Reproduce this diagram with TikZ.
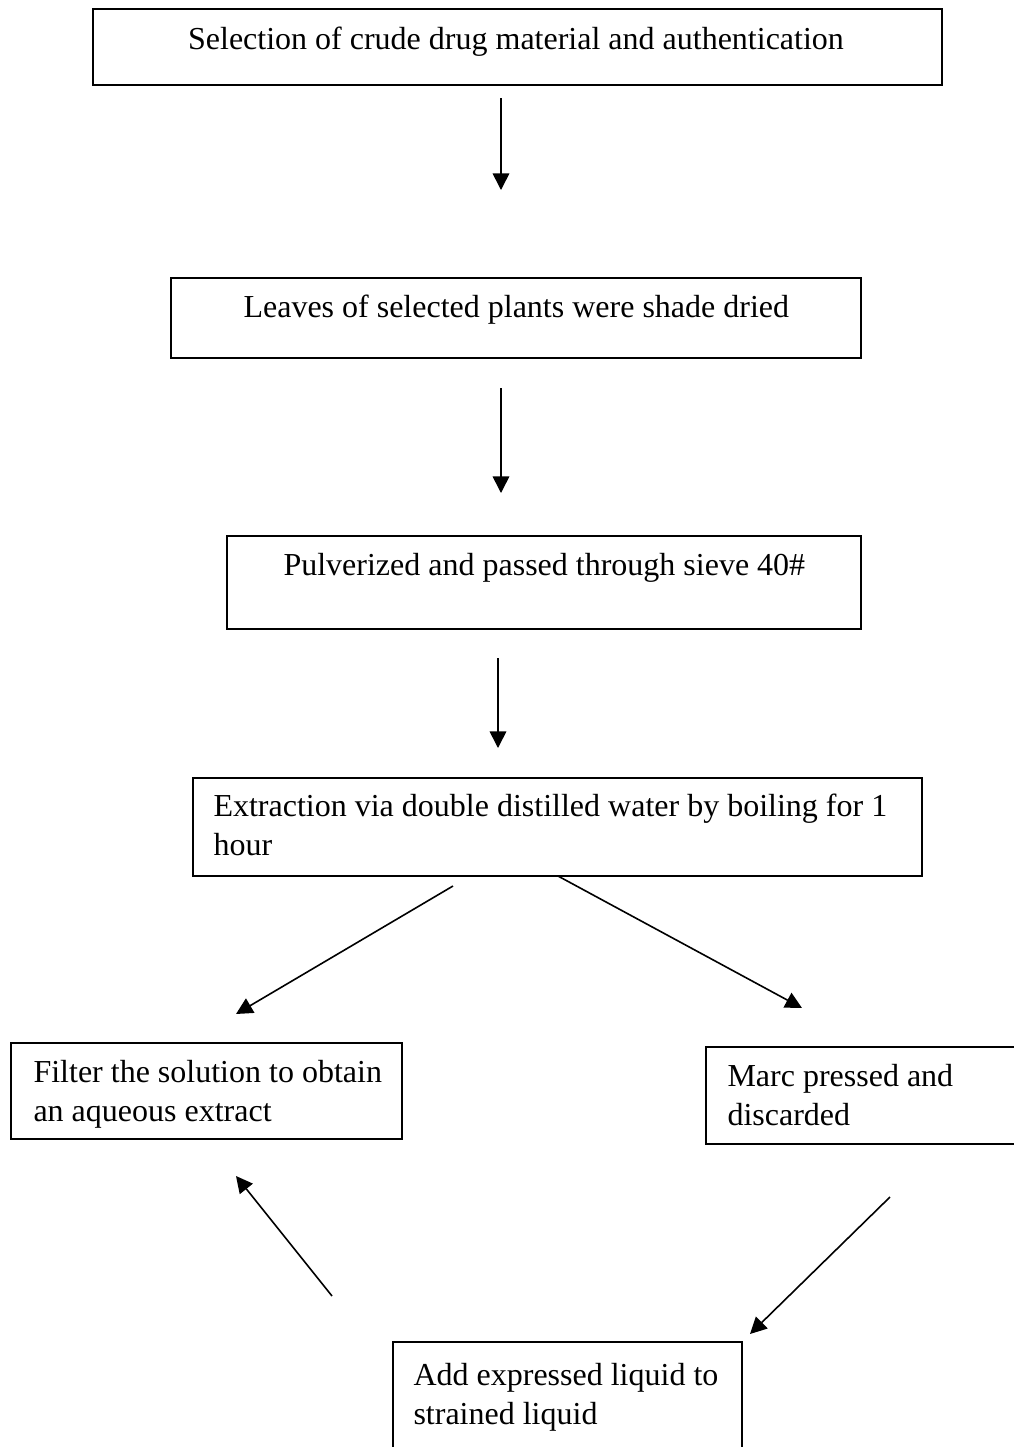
\documentclass[tikz,border=0pt]{standalone}
\usepackage{fontspec}
\setmainfont{Liberation Serif}
\usetikzlibrary{arrows.meta,fit}

\tikzset{
  box/.style={draw, line width=0.8pt, inner sep=0pt, fill=none},
  label/.style={inner sep=0pt, anchor=base west, align=left,
    font=\fontsize{12}{14.4}\selectfont},
  flow/.style={line width=0.6pt, -{Triangle[length=6.2pt,width=6.2pt]}}
}

\begin{document}
\begin{tikzpicture}[x=0.375pt,y=-0.375pt]
  \clip (0,0) rectangle (1014,1447);
  \fill[white] (0,0) rectangle (1014,1447);

  % process boxes
  \node[box, fit={(93,9) (942,85)}] (b1) {};
  \node[box, fit={(171,278) (861,358)}] (b2) {};
  \node[box, fit={(227,536) (861,629)}] (b3) {};
  \node[box, fit={(193,778) (922,876)}] (b4) {};
  \node[box, fit={(11,1043) (402,1139)}] (b5) {};
  \node[box, fit={(706,1047) (1040,1144)}] (b6) {};
  % last box runs past the lower edge
  \draw[line width=0.8pt] (393,1470) -- (393,1342) coordinate (b7tl)
        -- (742,1342) coordinate (b7tr) -- (742,1470);
  \coordinate (b7) at (567,1342);

  % box texts (multi-line texts are placed at the baseline of their last line)
  \node[label, anchor=base] (t1) at (516,49)
    {Selection of crude drug material and authentication};
  \node[label] (t2) at (243,317) {Leaves of selected plants were shade dried};
  \node[label] (t3) at (283,575) {Pulverized and passed through sieve 40\#};
  \node[label] (t4) at (213,855)
    {Extraction via double distilled water by boiling for 1\\hour};
  \node[label] (t5) at (33,1121)
    {Filter the solution to obtain\\an aqueous extract};
  \node[label] (t6) at (727,1125) {Marc pressed and\\discarded};
  \node[label] (t7) at (413,1424) {Add expressed liquid to\\strained liquid};

  % connector end points
  \coordinate (a1s) at (501,98);   \coordinate (a1e) at (501,190);
  \coordinate (a2s) at (501,388);  \coordinate (a2e) at (501,493);
  \coordinate (a3s) at (498,658);  \coordinate (a3e) at (498,748);
  \coordinate (a4s) at (453,886);  \coordinate (a4e) at (236,1014);
  \coordinate (a5s) at (558,876);  \coordinate (a5e) at (802,1008);
  \coordinate (a6s) at (890,1197); \coordinate (a6e) at (750,1334);
  \coordinate (a7s) at (332,1296); \coordinate (a7e) at (236,1176);

  % connectors
  \draw[flow] (a1s) -- (a1e);
  \draw[flow] (a2s) -- (a2e);
  \draw[flow] (a3s) -- (a3e);
  \draw[flow] (a4s) -- (a4e);
  \draw[flow] (a5s) -- (a5e);
  \draw[flow] (a6s) -- (a6e);
  \draw[flow] (a7s) -- (a7e);
\end{tikzpicture}
\end{document}
